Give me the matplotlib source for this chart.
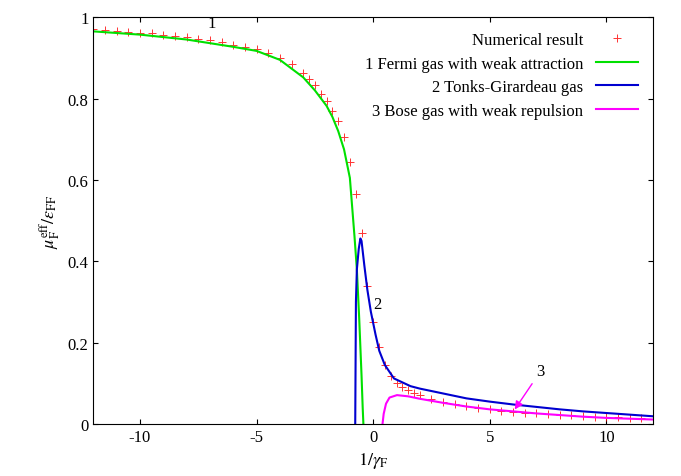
import matplotlib
matplotlib.use("Agg")
import matplotlib.pyplot as plt
from matplotlib.ticker import FuncFormatter

num_x = [-12,-11.5,-11,-10.5,-10,-9.5,-9,-8.5,-8,-7.5,-7,-6.5,-6,-5.5,-5,-4.5,-4,-3.5,-3,
         -2.75,-2.5,-2.25,-2,-1.75,-1.5,-1.25,-1,-0.75,-0.5,-0.25,0,0.25,0.5,0.75,1,1.25,1.5,1.75,2,
         2.5,3,3.5,4,4.5,5,5.5,6,6.5,7,7.5,8,8.5,9,9.5,10,10.5,11,11.5,12]
num_y = [.970,.968,.966,.964,.962,.960,.957,.954,.951,.947,.943,.938,.932,.926,.921,.912,.900,.884,.862,
         .848,.832,.812,.795,.77,.745,.705,.645,.565,.47,.34,.25,.19,.145,.118,.102,.092,.083,.077,.071,
         .062,.055,.049,.044,.040,.036,.033,.030,.028,.026,.024,.022,.021,.019,.018,.017,.016,.015,.014,.013]

fermi_x = [-12,-10,-8,-6,-5,-4,-3,-2.5,-2,-1.75,-1.5,-1.25,-1,-0.8,-0.7,-0.6,-0.5,-0.45,-0.42]
fermi_y = [.965,.957,.945,.927,.917,.895,.852,.82,.782,.755,.72,.675,.605,.46,.38,.26,.12,.04,0]

tg_x = [-0.77,-0.74,-0.7,-0.62,-0.55,-0.5,-0.38,-0.25,-0.1,0.1,0.26,0.5,0.89,1.6,2,3,4,5,6,7,8,9,10,11,12]
tg_y = [0,.30,.38,.43,.456,.45,.39,.33,.276,.22,.18,.145,.112,.093,.087,.075,.063,.055,.048,.042,.036,.031,.027,.023,.019]

bose_x = [0.4,0.45,0.55,0.7,1.02,1.5,2,3,4,5,6,7,8,9,10,11,12]
bose_y = [0,.025,.05,.065,.071,.068,.062,.052,.043,.036,.031,.026,.022,.018,.015,.013,.011]

labels = ["Numerical result", "1 Fermi gas with weak attraction",
          "2 Tonks-Girardeau gas", "3 Bose gas with weak repulsion"]

plt.rcParams["font.family"] = "Liberation Serif"
plt.rcParams["mathtext.fontset"] = "stix"
plt.rcParams["axes.unicode_minus"] = False
fig = plt.figure(figsize=(6.81, 4.77), dpi=100)
ax = fig.add_axes([0.137, 0.109, 0.822, 0.853])

ax.plot(num_x, num_y, "+", color="red", ms=6, mew=0.7, alpha=0.8, label=labels[0])
ax.plot(fermi_x, fermi_y, "-", color="#00e000", lw=1.5, label=labels[1])
ax.plot(tg_x, tg_y, "-", color="#0000d0", lw=1.5, label=labels[2])
ax.plot(bose_x, bose_y, "-", color="#ff00ff", lw=1.5, label=labels[3])

ax.set_xlim(-12, 12)
ax.set_ylim(0, 1)
ax.set_xticks([-10, -5, 0, 5, 10])
ax.set_yticks([0, 0.2, 0.4, 0.6, 0.8, 1])
ax.yaxis.set_major_formatter(FuncFormatter(lambda v, p: f"{v:g}"))
ax.tick_params(direction="in", top=True, right=True, labelsize=12)
ax.set_xlabel(r"$1/\gamma_{\rm F}$", fontsize=13)
ax.set_ylabel(r"$\mu_{\rm F}^{\rm eff}/\epsilon_{\rm FF}$", fontsize=13)

ax.text(-7.1, 0.975, "1", fontsize=12)
ax.text(0.0, 0.285, "2", fontsize=12)
ax.annotate("3", xy=(6.0, 0.03), xytext=(7.0, 0.12), fontsize=12,
            arrowprops=dict(arrowstyle="-|>", color="#ff00ff", lw=1))

ax.legend(loc="upper right", frameon=False, markerfirst=False, fontsize=12,
          handlelength=2.5, labelspacing=0.45)
fig.savefig("out.png", dpi=100)
